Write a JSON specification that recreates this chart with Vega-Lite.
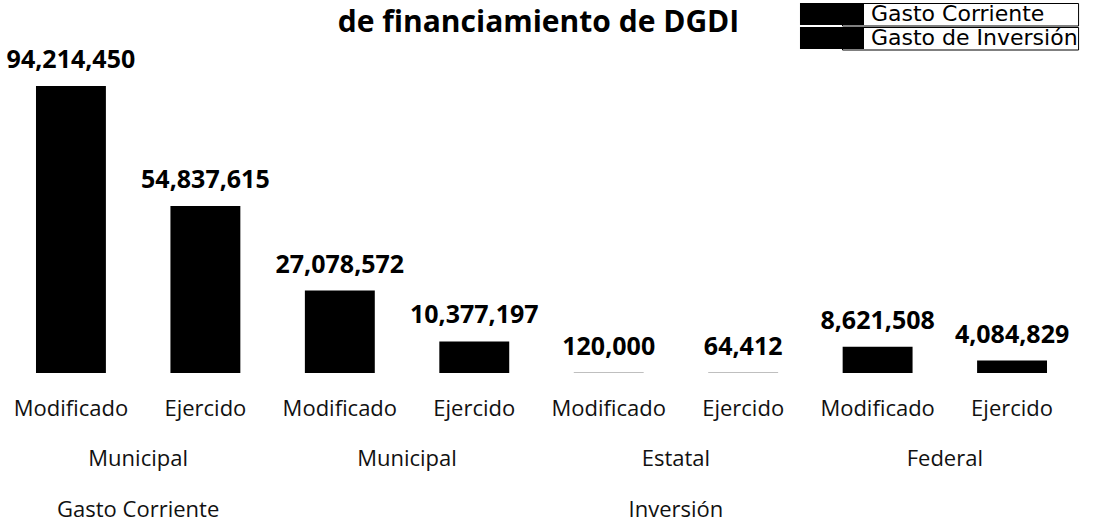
{
  "$schema": "https://vega.github.io/schema/vega-lite/v6.json",
  "autosize": {"type": "none"},
  "width": 1083,
  "height": 287,
  "padding": {"left": 0, "top": 86, "right": 10, "bottom": 151},
  "background": "white",
  "config": {"view": {"stroke": null}, "axis": {"grid": false}},
  "data": {
    "values": [
      {"clave": "Gasto Corriente|Municipal|Modificado", "tipo": "Gasto Corriente", "valor": 94214450},
      {"clave": "Gasto Corriente|Municipal|Ejercido", "tipo": "Gasto Corriente", "valor": 54837615},
      {"clave": "Inversión|Municipal|Modificado", "tipo": "Gasto de Inversión", "valor": 27078572},
      {"clave": "Inversión|Municipal|Ejercido", "tipo": "Gasto de Inversión", "valor": 10377197},
      {"clave": "Inversión|Estatal|Modificado", "tipo": "Gasto de Inversión", "valor": 120000},
      {"clave": "Inversión|Estatal|Ejercido", "tipo": "Gasto de Inversión", "valor": 64412},
      {"clave": "Inversión|Federal|Modificado", "tipo": "Gasto de Inversión", "valor": 8621508},
      {"clave": "Inversión|Federal|Ejercido", "tipo": "Gasto de Inversión", "valor": 4084829}
    ]
  },
  "resolve": {"axis": {"x": "independent"}},
  "layer": [
    {
      "mark": {"type": "bar"},
      "encoding": {
        "x": {
          "field": "clave", "type": "nominal", "sort": null,
          "scale": {"paddingInner": 0.48, "paddingOuter": 0.2677},
          "axis": {
            "orient": "bottom", "title": null, "domain": false, "ticks": false,
            "labelAngle": 0, "labelFont": "Open Sans", "labelFontSize": 22,
            "labelColor": "#111111", "labelPadding": 25, "labelLimit": 300,
            "labelExpr": "split(datum.value, '|')[2]"
          }
        },
        "y": {
          "field": "valor", "type": "quantitative",
          "scale": {"domain": [0, 94214450], "nice": false},
          "axis": null
        },
        "color": {
          "field": "tipo", "type": "nominal",
          "scale": {"domain": ["Gasto Corriente", "Gasto de Inversión"], "range": ["black", "black"]},
          "legend": {
            "title": null,
            "orient": "none",
            "legendX": 842,
            "legendY": -83,
            "symbolType": "M-4.82,-1H1V1H-4.82Z",
            "symbolSize": 484,
            "symbolStrokeWidth": 0,
            "symbolOpacity": 1,
            "labelFont": "DejaVu Sans",
            "labelFontSize": 22,
            "labelColor": "black",
            "labelOffset": 7,
            "labelLimit": 400,
            "rowPadding": 0,
            "padding": 0,
            "encode": {
              "entries": {
                "update": {
                  "stroke": {"value": "black"},
                  "strokeWidth": {"value": 1}
                }
              }
            }
          }
        }
      }
    },
    {
      "mark": {"type": "text", "dy": -18, "baseline": "alphabetic", "font": "Noto Sans", "fontWeight": "bold", "fontSize": 25, "color": "black"},
      "encoding": {
        "x": {
          "field": "clave", "type": "nominal", "sort": null,
          "axis": {
            "orient": "bottom", "title": null, "domain": false, "ticks": false,
            "labelAngle": 0, "labelFont": "Open Sans", "labelFontSize": 22,
            "labelColor": "#111111", "labelPadding": 25, "labelLimit": 300,
            "offset": 50, "labelOffset": 67.2,
            "labelExpr": "split(datum.value, '|')[2] == 'Modificado' ? split(datum.value, '|')[1] : ''"
          }
        },
        "y": {"field": "valor", "type": "quantitative"},
        "text": {"field": "valor", "type": "quantitative", "format": ",d"}
      }
    },
    {
      "mark": {"type": "bar", "opacity": 0},
      "encoding": {
        "x": {
          "field": "clave", "type": "nominal", "sort": null,
          "axis": {
            "orient": "bottom", "title": null, "domain": false, "ticks": false,
            "labelAngle": 0, "labelFont": "Open Sans", "labelFontSize": 22,
            "labelColor": "#111111", "labelPadding": 25, "labelLimit": 300,
            "offset": 101, "labelOffset": 67.2,
            "labelExpr": "datum.value == 'Gasto Corriente|Municipal|Modificado' ? 'Gasto Corriente' : (datum.value == 'Inversión|Estatal|Modificado' ? 'Inversión' : '')"
          }
        },
        "y": {"field": "valor", "type": "quantitative"}
      }
    },
    {
      "mark": {"type": "bar", "opacity": 0},
      "encoding": {
        "x": {
          "field": "clave", "type": "nominal", "sort": null,
          "axis": {
            "orient": "top", "labels": false, "domain": false, "ticks": false,
            "title": "de financiamiento de DGDI",
            "titleFont": "Open Sans", "titleFontSize": 30, "titleFontWeight": "bold",
            "titleColor": "black", "titleBaseline": "alphabetic", "titlePadding": 55,
            "titleX": 538
          }
        },
        "y": {"field": "valor", "type": "quantitative"}
      }
    }
  ]
}
